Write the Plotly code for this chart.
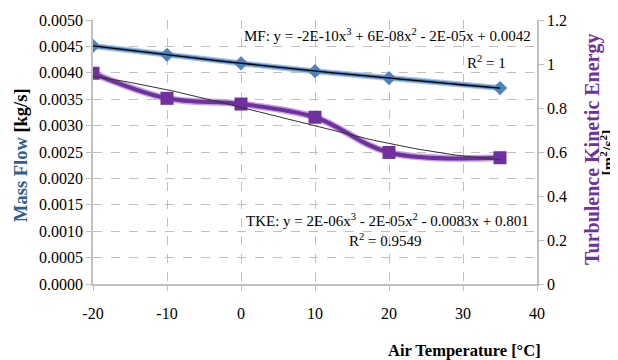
import numpy as np
import plotly.graph_objects as go

# Data
temps = [-20, -10, 0, 10, 20, 35]
mass_flow = [0.00451, 0.00434, 0.00418, 0.00403, 0.00390, 0.00371]
tke = [0.958, 0.844, 0.818, 0.758, 0.598, 0.574]

x_ticks = [-20, -10, 0, 10, 20, 30, 40]
x_tick_labels = ["-20", "-10", "0", "10", "20", "30", "40"]

mf_eq = "MF: y = -2E-10x<sup>3</sup> + 6E-08x<sup>2</sup> - 2E-05x + 0.0042"
mf_r2 = "R<sup>2</sup> = 1"
tke_eq = "TKE: y = 2E-06x<sup>3</sup> - 2E-05x<sup>2</sup> - 0.0083x + 0.801"
tke_r2 = "R<sup>2</sup> = 0.9549"

# Trendlines (cubic fits of the data)
xs = np.linspace(min(temps), max(temps), 120)
mf_fit = np.polyval(np.polyfit(temps, mass_flow, 3), xs)
tke_fit = np.polyval(np.polyfit(temps, tke, 3), xs)

FONT = "Liberation Serif"
BLUE = "#4f81bd"
PURPLE = "#7030a0"
GRID = "#c0c0c0"

# page has an 8px body margin: figure is drawn offset by (8, 8)
OFF = 8
W, H = 618 - OFF, 360 - OFF
L, T = 93 - OFF, 20 - OFF
R = W - (537 - OFF)
B = H - (284 - OFF)
pw, ph = W - L - R, H - T - B


def px(xp, yp):
    """page pixel -> paper coords"""
    return (xp - OFF - L) / pw, 1 - (yp - OFF - T) / ph


fig = go.Figure()

# Mass flow (left axis)
fig.add_trace(go.Scatter(x=temps, y=mass_flow, mode="lines", line=dict(color="#a9c4e6", width=6),
                         hoverinfo="skip", showlegend=False))
fig.add_trace(go.Scatter(x=temps, y=mass_flow, mode="lines+markers",
                         line=dict(color=BLUE, width=3.5),
                         marker=dict(symbol="diamond", size=11, color=BLUE),
                         name="MF", showlegend=False))
fig.add_trace(go.Scatter(x=xs, y=mf_fit, mode="lines", line=dict(color="black", width=1.3),
                         hoverinfo="skip", showlegend=False))

# TKE (right axis)
fig.add_trace(go.Scatter(x=temps, y=tke, mode="lines", yaxis="y2",
                         line=dict(color="#c4a6dc", width=7, shape="spline", smoothing=1),
                         hoverinfo="skip", showlegend=False))
fig.add_trace(go.Scatter(x=temps, y=tke, mode="lines+markers", yaxis="y2",
                         line=dict(color=PURPLE, width=4, shape="spline", smoothing=1),
                         marker=dict(symbol="square", size=13, color=PURPLE),
                         name="TKE", showlegend=False))
fig.add_trace(go.Scatter(x=xs, y=tke_fit, mode="lines", yaxis="y2",
                         line=dict(color="#333333", width=1),
                         hoverinfo="skip", showlegend=False))

ann = []
for text, xp, yp, anchor in [(mf_eq, 533, 35, "right"), (mf_r2, 486, 62, "center"),
                             (tke_eq, 387, 220, "center"), (tke_r2, 385, 240, "center")]:
    xx, yy = px(xp, yp)
    ann.append(dict(text=text, x=xx, y=yy, xref="paper", yref="paper",
                    showarrow=False, font=dict(family=FONT, size=15, color="black"),
                    xanchor=anchor, yanchor="middle"))

# axis titles
xx, yy = px(20.5, 155.5)
ann.append(dict(text="<b><span style='color:#2e5e91'>Mass Flow</span> [kg/s]</b>", x=xx, y=yy,
                xref="paper", yref="paper", showarrow=False, textangle=-90,
                font=dict(family=FONT, size=18.5, color="black"), xanchor="center", yanchor="middle"))
xx, yy = px(592, 150)
ann.append(dict(text="<b>Turbulence Kinetic Energy</b>",
                x=xx, y=yy, xref="paper", yref="paper", showarrow=False, textangle=-90,
                font=dict(family=FONT, size=20, color=PURPLE), xanchor="center", yanchor="middle"))
xx, yy = px(607.5, 153)
ann.append(dict(text="<b>[m<sup>2</sup>/s<sup>2</sup>]</b>",
                x=xx, y=yy, xref="paper", yref="paper", showarrow=False, textangle=-90,
                font=dict(family=FONT, size=16, color="black"), xanchor="center", yanchor="middle"))
xx, yy = px(464, 350)
ann.append(dict(text="<b>Air Temperature [°C]</b>", x=xx, y=yy, xref="paper", yref="paper",
                showarrow=False, font=dict(family=FONT, size=16.5, color="black"),
                xanchor="center", yanchor="middle"))

tickfont = dict(family=FONT, size=16, color="black")
fig.update_layout(
    width=W, height=H,
    margin=dict(l=L, r=R, t=T, b=B, autoexpand=False),
    paper_bgcolor="white", plot_bgcolor="white",
    font=dict(family=FONT, size=16, color="black"),
    annotations=ann,
    xaxis=dict(range=[-20, 40], tickvals=x_ticks, ticktext=x_tick_labels, showline=True,
               linecolor=GRID, linewidth=1.5, tickfont=tickfont,
               ticks="outside", ticklen=5, tickcolor=GRID, showgrid=True, gridcolor=GRID,
               griddash="dash", zeroline=False, ticklabelstandoff=9, automargin=False),
    yaxis=dict(range=[0, 0.005], dtick=0.0005, tickformat=".4f", showline=True, linecolor=GRID,
               linewidth=1.5, ticks="outside", ticklen=5, tickcolor=GRID, showgrid=True,
               gridcolor=GRID, griddash="dash", zeroline=False, tickfont=tickfont, automargin=False),
    yaxis2=dict(range=[0, 1.2], dtick=0.2, overlaying="y", side="right", showline=True,
                linecolor=GRID, linewidth=1.5, ticks="outside", ticklen=5, tickcolor=GRID,
                showgrid=False, zeroline=False, tickfont=tickfont, automargin=False),
)

fig.write_html("out.html")
